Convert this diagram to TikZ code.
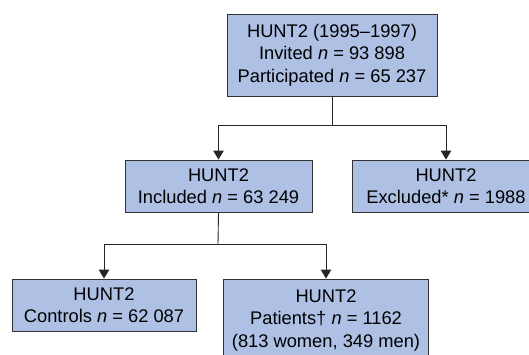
\documentclass[tikz,border=0pt]{standalone}
\usepackage{fontspec}
\setmainfont{Liberation Sans}
\usepackage{xcolor}
\usetikzlibrary{arrows.meta}

\definecolor{boxblue}{HTML}{AEC0E4}
\definecolor{boxline}{HTML}{333333}

\tikzset{
  stagebox/.style={draw=boxline, fill=boxblue, line width=0.9pt, align=center,
    inner sep=0pt, font=\fontsize{18.3}{22.5}\selectfont},
  flow/.style={draw=black!85, line width=0.9pt},
  flowarrow/.style={flow, -{Triangle[width=10.5pt, length=9pt]}}
}

\begin{document}
\begin{tikzpicture}[x=1pt, y=-1pt]
\useasboundingbox (0, 0) rectangle (529, 354);

% boxes
\node[stagebox, minimum width=210pt, minimum height=82pt] (hunt) at (332, 55)
  {HUNT2 (1995--1997)\\Invited \textit{n} = 93 898\\Participated \textit{n} = 65 237};
\node[stagebox, minimum width=187pt, minimum height=52pt] (incl) at (218.5, 186)
  {HUNT2\\Included \textit{n} = 63 249};
\node[stagebox, minimum width=188pt, minimum height=52pt] (excl) at (446, 186)
  {HUNT2\\Excluded* \textit{n} = 1988};
\node[stagebox, minimum width=184pt, minimum height=52pt] (ctrl) at (104, 305)
  {HUNT2\\Controls \textit{n} = 62 087};
\node[stagebox, minimum width=205pt, minimum height=82pt] (pat) at (326, 320)
  {HUNT2\\Patients\textdagger{} \textit{n} = 1162\\(813 women, 349 men)};

% connectors
\coordinate (split1) at (332, 125);
\coordinate (split2) at (218, 244);
\draw[flow] (hunt.south) -- (split1);
\draw[flowarrow] (split1) -| (incl.north);
\draw[flowarrow] (split1) -| (excl.north);

\draw[flow] (incl.south) -- (split2);
\draw[flowarrow] (split2) -| (ctrl.north);
\draw[flowarrow] (split2) -| (pat.north);

\end{tikzpicture}
\end{document}
